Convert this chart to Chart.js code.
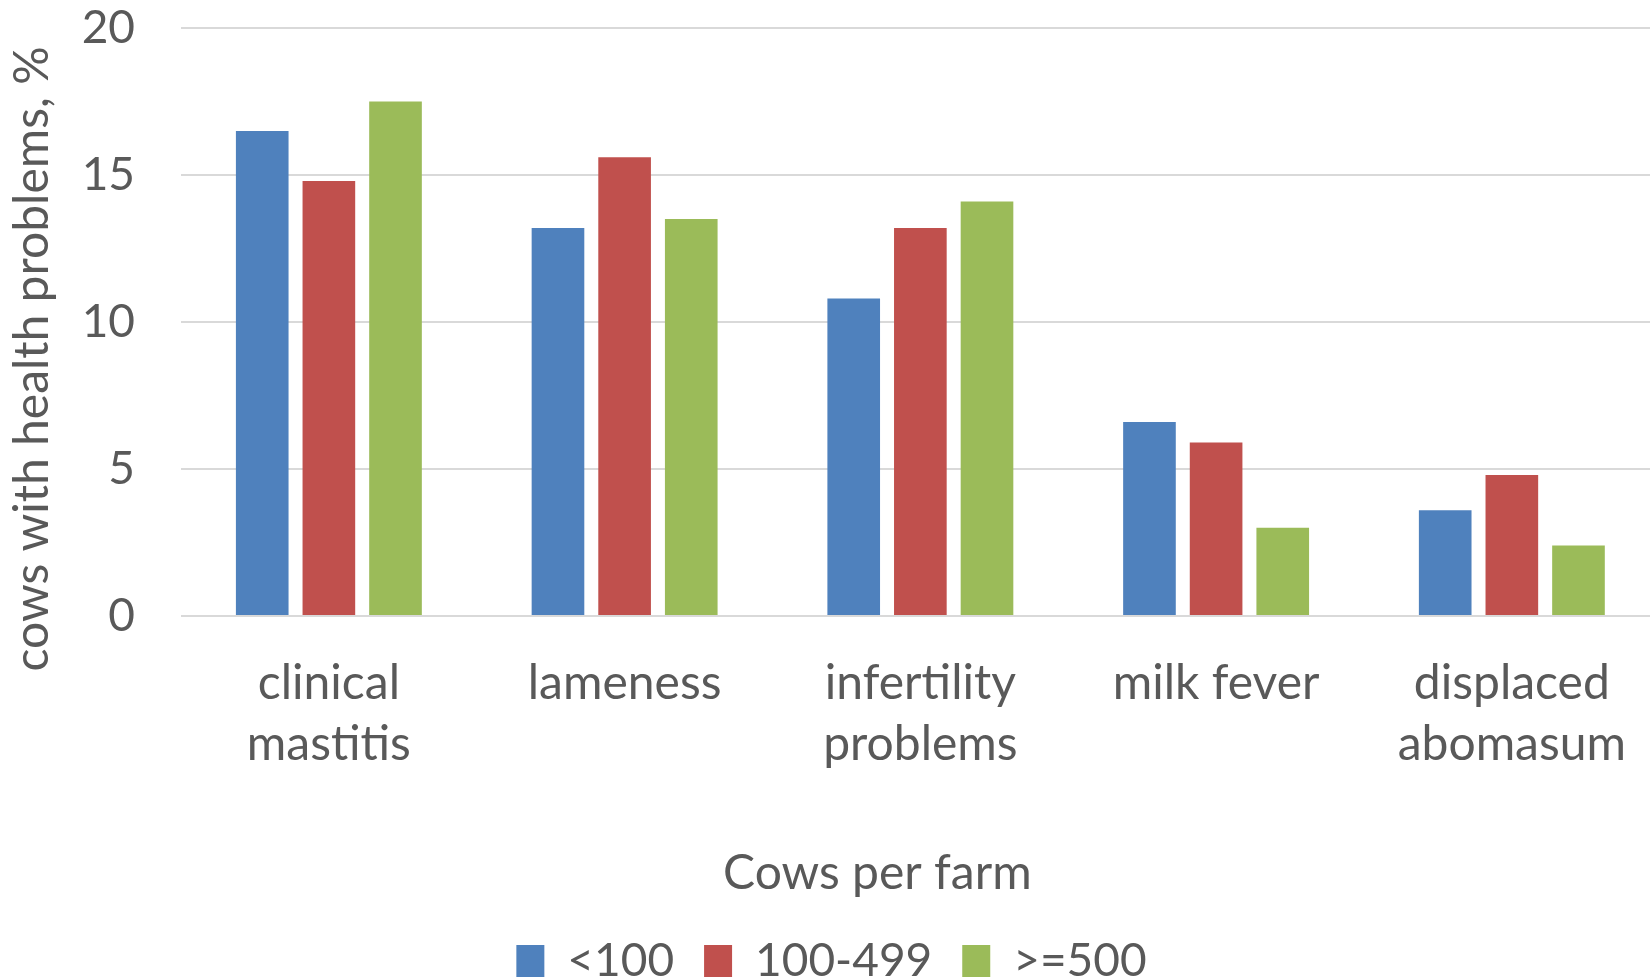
<!DOCTYPE html>
<html>
<head>
<meta charset="utf-8">
<script src="https://cdn.jsdelivr.net/npm/chart.js@4.4.0/dist/chart.umd.min.js"></script>
<style>
  html, body { margin: 0; padding: 0; background: #fff; overflow: hidden; }
  /* the plot area runs slightly past the right edge of the picture */
  #wrap { width: 1663px; height: 980px; }
</style>
</head>
<body>
<div id="wrap"><canvas id="chart"></canvas></div>
<script>
const categories = [['clinical', 'mastitis'], 'lameness', ['infertility', 'problems'], 'milk fever', ['displaced', 'abomasum']];
const seriesNames = ['<100', '100-499', '>=500'];
const under100 = [16.5, 13.2, 10.8, 6.6, 3.6];
const from100to499 = [14.8, 15.6, 13.2, 5.9, 4.8];
const over500 = [17.5, 13.5, 14.1, 3.0, 2.4];
const yTicks = [0, 5, 10, 15, 20];
const colors = ['#4f81bd', '#c0504d', '#9bbb59'];

const textColor = '#595959';
const fontFamily = 'Lato, "Open Sans", sans-serif';

new Chart(document.getElementById('chart'), {
  type: 'bar',
  data: {
    labels: categories,
    datasets: [under100, from100to499, over500].map((vals, i) => ({
      label: seriesNames[i],
      data: vals,
      backgroundColor: colors[i],
      categoryPercentage: 0.676,
      barPercentage: 0.79,
    })),
  },
  options: {
    responsive: true,
    maintainAspectRatio: false,
    animation: false,
    layout: { padding: { top: 28, right: 0, left: 0, bottom: -14 } },
    plugins: {
      tooltip: { enabled: false },
      legend: {
        position: 'bottom',
        labels: {
          color: textColor,
          font: { family: fontFamily, size: 46 },
          boxWidth: 28,
          boxHeight: 32,
          padding: 30,
        },
      },
    },
    scales: {
      x: {
        grid: { display: false, drawTicks: false },
        border: { display: false },
        ticks: {
          color: textColor,
          font: { family: fontFamily, size: 48, lineHeight: 1.27 },
          padding: 37,
          maxRotation: 0,
          autoSkip: false,
        },
        title: {
          display: true,
          text: 'Cows per farm       ',
          color: textColor,
          font: { family: fontFamily, size: 48, lineHeight: 1 },
          padding: { top: 40, bottom: 10 },
        },
        afterFit: (scale) => { scale.height = 292; },
      },
      y: {
        min: 0,
        max: 20,
        afterBuildTicks: (scale) => { scale.ticks = yTicks.map((v) => ({ value: v })); },
        grid: { color: '#d9d9d9', lineWidth: 2, drawTicks: false },
        border: { display: false },
        ticks: {
          color: textColor,
          font: { family: fontFamily, size: 46 },
          padding: 46,
        },
        title: {
          display: true,
          text: 'cows with health problems, %      ',
          color: textColor,
          font: { family: fontFamily, size: 48 },
          padding: { top: 4, bottom: 0 },
        },
        afterFit: (scale) => {
          scale.width = 181;
          scale.paddingTop = 0;
          scale.paddingBottom = 0;
        },
      },
    },
  },
});
</script>
</body>
</html>
